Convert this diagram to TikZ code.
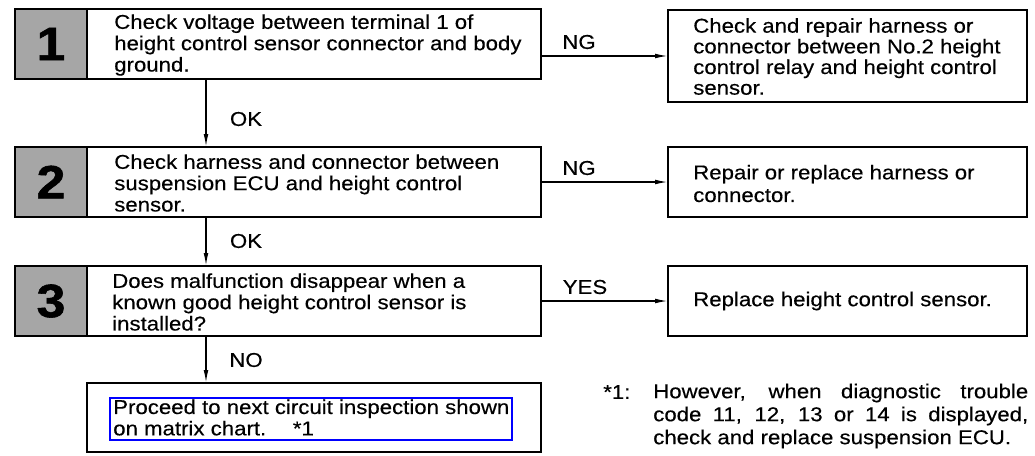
\documentclass[tikz,border=0pt]{standalone}
\usepackage{fontspec}
\setmainfont{Liberation Sans}[FakeStretch=1.11, FakeBold=0.35,
  BoldFeatures={FakeBold=1.2}]
\usetikzlibrary{arrows.meta}

\tikzstyle{stepbox}=[rectangle, draw, line width=1.2pt, inner sep=0pt,
                     minimum width=394.5pt, minimum height=52.5pt]
\tikzstyle{numbox}=[rectangle, draw, line width=1.2pt, inner sep=0pt,
                    fill=black!35, minimum width=54pt, minimum height=52.5pt,
                    font=\fontsize{35}{35}\selectfont\bfseries]
\tikzstyle{resultbox}=[rectangle, draw, line width=1.2pt, inner sep=0pt,
                       minimum width=269.25pt, minimum height=52.5pt]
\tikzstyle{boxtext}=[anchor=west, inner sep=0pt, align=left,
                     font=\fontsize{15}{16}\selectfont]
\tikzstyle{answer}=[inner sep=0pt, font=\fontsize{15}{16}\selectfont]
\tikzstyle{flow}=[-{Latex[length=9pt, width=3.5pt]}, line width=0.8pt]

\begin{document}
\begin{tikzpicture}[x=0.75pt, y=-0.75pt]
  \useasboundingbox (0, 0) rectangle (1035, 455);

  %%%%%%%%%%%%%%%%%%%%%%%%%%%%%%
  % steps
  \node (Step1) at (278, 44) [stepbox] {};
  \node (Num1) at (51, 44) [numbox] {1};
  \node (Text1) at (114, 45) [boxtext] {Check voltage between terminal 1 of\\
    height control sensor connector and body\\ ground.};

  \node (Step2) at (278, 182) [stepbox] {};
  \node (Num2) at (51, 182) [numbox] {2};
  \node (Text2) at (114, 183) [boxtext] {Check harness and connector between\\
    suspension ECU and height control\\ sensor.};

  \node (Step3) at (278, 301) [stepbox] {};
  \node (Num3) at (51, 301) [numbox] {3};
  \node (Text3) at (112, 302) [boxtext] {Does malfunction disappear when a\\
    known good height control sensor is\\ installed?};

  \node (Step4) at (314, 417.5) [stepbox, minimum width=340.5pt, minimum height=51.75pt] {};
  \node (Text4) at (113, 417.5) [boxtext] {Proceed to next circuit inspection shown\\
    on matrix chart.\hspace{20pt}*1};
  \draw [blue, line width=2pt] (110, 398) rectangle (512, 440);

  %%%%%%%%%%%%%%%%%%%%%%%%%%%%%%
  % results
  \node (Repair1) at (847.5, 56) [resultbox, minimum height=69pt] {};
  \node (RText1) at (693, 56.5) [boxtext, font=\fontsize{15}{15.5}\selectfont]
    {Check and repair harness or\\ connector between No.2 height\\
     control relay and height control\\ sensor.};

  \node (Repair2) at (847.5, 182) [resultbox] {};
  \node (RText2) at (693, 183.5) [boxtext, font=\fontsize{15}{17}\selectfont]
    {Repair or replace harness or\\ connector.};

  \node (Replace3) at (847.5, 301) [resultbox] {};
  \node (RText3) at (693, 301) [boxtext] {Replace height control sensor.};

  %%%%%%%%%%%%%%%%%%%%%%%%%%%%%%
  % connectors
  \coordinate (Spine) at (206, 0);
  \draw [flow] (Step1.south -| Spine) -- (Step2.north -| Spine);
  \draw [flow] (Step2.south -| Spine) -- (Step3.north -| Spine);
  \draw [flow] (Step3.south -| Spine) -- (Step4.north -| Spine);

  \draw [flow] (Repair1.west -| Step1.east) -- (Repair1.west);
  \draw [flow] (Repair2.west -| Step2.east) -- (Repair2.west);
  \draw [flow] (Replace3.west -| Step3.east) -- (Replace3.west);

  \node (lab_ok1) at (246, 119) [answer] {OK};
  \node (lab_ok2) at (246, 241) [answer] {OK};
  \node (lab_no) at (246, 360) [answer] {NO};
  \node (lab_ng1) at (579, 42) [answer] {NG};
  \node (lab_ng2) at (579, 168) [answer] {NG};
  \node (lab_yes) at (585, 287) [answer] {YES};

  %%%%%%%%%%%%%%%%%%%%%%%%%%%%%%
  % note
  \node (note_mark) at (603, 392) [boxtext] {*1:};
  \node (note_text) at (653, 416) [boxtext, text width=281.25pt, align=justify,
    font=\fontsize{15}{17.25}\selectfont]
    {However, when diagnostic trouble\linebreak
     code 11, 12, 13 or 14 is displayed,\linebreak
     check and replace suspension ECU.};

\end{tikzpicture}
\end{document}
